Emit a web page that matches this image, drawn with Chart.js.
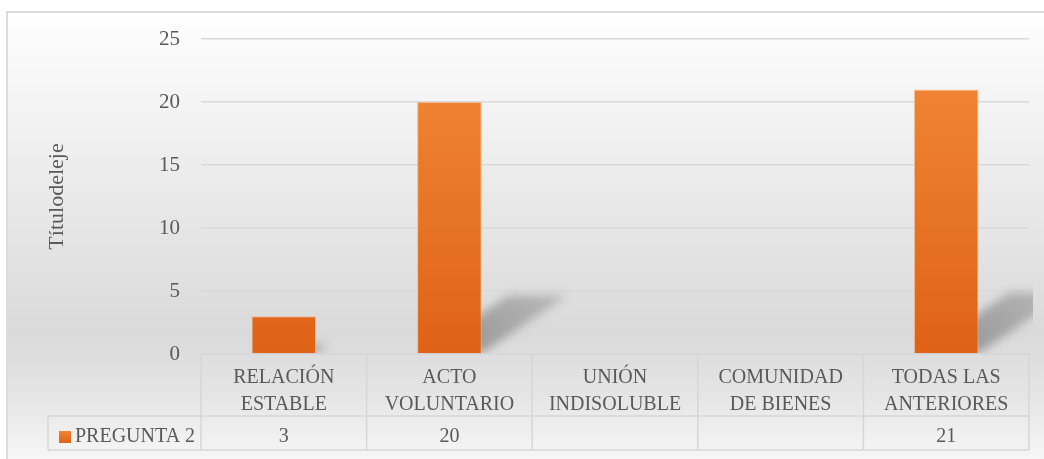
<!DOCTYPE html>
<html>
<head>
<meta charset="utf-8">
<script src="https://cdn.jsdelivr.net/npm/chart.js@4"></script>
<style>
  body { margin: 0; background: #ffffff; }
  canvas { display: block; }
</style>
</head>
<body>
<canvas id="grafico" width="1044" height="459"></canvas>
<script>
const categorias = [
    ["RELACIÓN", "ESTABLE"],
    ["ACTO", "VOLUNTARIO"],
    ["UNIÓN", "INDISOLUBLE"],
    ["COMUNIDAD", "DE BIENES"],
    ["TODAS LAS", "ANTERIORES"]
];
const valoresPregunta2 = [3, 20, null, null, 21];
const nombreSerie = "PREGUNTA 2";
const tituloEje = "Títulodeleje";
const ticksY = [0, 5, 10, 15, 20, 25];

const fuente = "'Liberation Serif', 'Times New Roman', serif";
const gris = "#595959";
const lineaTabla = "#d6d6d6";

function degradadoNaranja(ctx, y0, y1) {
    const g = ctx.createLinearGradient(0, y0, 0, y1);
    g.addColorStop(0, "#ef8433");
    g.addColorStop(1, "#df6216");
    return g;
}

// fondo con degradado y marco
const fondo = {
    id: "fondo",
    beforeDraw(chart) {
        const ctx = chart.ctx;
        ctx.save();
        const g = ctx.createLinearGradient(0, 12, 0, 459);
        g.addColorStop(0, "#ffffff");
        g.addColorStop(0.08, "#fafafa");
        g.addColorStop(0.72, "#dadada");
        g.addColorStop(0.85, "#e4e4e4");
        g.addColorStop(1, "#f6f6f6");
        ctx.fillStyle = g;
        ctx.fillRect(8, 13, 1044, 459);
        ctx.strokeStyle = "#dcdcdc";
        ctx.lineWidth = 2;
        ctx.strokeRect(7, 12, 1060, 480);
        ctx.restore();
    }
};

// sombras en perspectiva detrás de las barras
const sombras = {
    id: "sombras",
    beforeDatasetsDraw(chart) {
        const ctx = chart.ctx;
        const area = chart.chartArea;
        const meta = chart.getDatasetMeta(0);
        ctx.save();
        ctx.beginPath();
        ctx.rect(area.left, area.top, area.right - area.left + 4, area.bottom - area.top);
        ctx.clip();
        ctx.filter = "blur(5px)";
        meta.data.forEach((bar, i) => {
            if (valoresPregunta2[i] === null) return;
            const h = bar.base - bar.y;
            const izq = bar.x - bar.width / 2;
            const der = bar.x + bar.width / 2;
            const dx = h * 0.34, dy = h * 0.23;
            const g = ctx.createLinearGradient(der, bar.base, der + dx, bar.base - dy);
            g.addColorStop(0, "rgba(80,80,80,0.45)");
            g.addColorStop(1, "rgba(80,80,80,0.25)");
            ctx.fillStyle = g;
            ctx.beginPath();
            ctx.moveTo(izq + 6, bar.base);
            ctx.lineTo(der, bar.base);
            ctx.lineTo(der + dx, bar.base - dy);
            ctx.lineTo(izq + dx + 6, bar.base - dy);
            ctx.closePath();
            ctx.fill();
            // degradado propio de cada barra
            bar.options.backgroundColor = degradadoNaranja(ctx, bar.y, bar.base);
        });
        ctx.restore();
    }
};

// tabla de datos bajo el eje
const tablaDatos = {
    id: "tablaDatos",
    afterDraw(chart) {
        const ctx = chart.ctx;
        const x = chart.scales.x;
        const n = categorias.length;
        const ancho = (x.right - x.left) / n;
        const yTop = chart.chartArea.bottom;
        const yFila = 416, yFin = 450, xLeyenda = 48;
        ctx.save();
        ctx.strokeStyle = lineaTabla;
        ctx.lineWidth = 1.5;
        ctx.beginPath();
        ctx.moveTo(x.left, yTop); ctx.lineTo(x.right, yTop);
        ctx.moveTo(xLeyenda, yFila); ctx.lineTo(x.right, yFila);
        ctx.moveTo(xLeyenda, yFin); ctx.lineTo(x.right, yFin);
        ctx.moveTo(xLeyenda, yFila); ctx.lineTo(xLeyenda, yFin);
        for (let i = 0; i <= n; i++) {
            const xx = x.left + i * ancho;
            ctx.moveTo(xx, yTop); ctx.lineTo(xx, yFin);
        }
        ctx.stroke();

        const yTexto = 437;
        ctx.fillStyle = degradadoNaranja(ctx, 431, 443);
        ctx.fillRect(59, 431, 12, 12);
        ctx.font = "20px " + fuente;
        ctx.fillStyle = gris;
        ctx.textBaseline = "middle";
        ctx.textAlign = "left";
        ctx.fillText(nombreSerie, 75, yTexto);
        ctx.textAlign = "center";
        valoresPregunta2.forEach((v, i) => {
            if (v === null) return;
            ctx.fillText(String(v), x.getPixelForValue(i), yTexto);
        });
        ctx.restore();
    }
};

new Chart(document.getElementById("grafico"), {
    type: "bar",
    data: {
        labels: categorias,
        datasets: [{
            label: nombreSerie,
            data: valoresPregunta2,
            backgroundColor: "#e97324",
            borderColor: "rgba(246,178,130,0.8)",
            borderWidth: 1,
            borderSkipped: "bottom",
            categoryPercentage: 1,
            barPercentage: 0.39
        }]
    },
    options: {
        responsive: false,
        animation: false,
        layout: { padding: { top: 39, right: 15, left: 0, bottom: 0 } },
        plugins: {
            legend: { display: false },
            tooltip: { enabled: false }
        },
        scales: {
            x: {
                grid: { display: false },
                border: { display: false },
                ticks: {
                    color: gris,
                    font: { family: fuente, size: 20, lineHeight: 1.35 },
                    padding: 2,
                    maxRotation: 0,
                    autoSkip: false
                },
                afterFit(scale) { scale.height = 105; }
            },
            y: {
                min: 0,
                max: 25,
                afterBuildTicks(scale) { scale.ticks = ticksY.map(v => ({ value: v })); },
                grid: { color: "#d9d9d9", lineWidth: 1.5, drawTicks: false },
                border: { display: false },
                ticks: {
                    color: gris,
                    font: { family: fuente, size: 21 },
                    padding: 21
                },
                title: {
                    display: true,
                    text: tituloEje,
                    color: gris,
                    font: { family: fuente, size: 22 },
                    padding: { top: 44, bottom: 0 }
                },
                afterFit(scale) { scale.width = 201; }
            }
        }
    },
    plugins: [fondo, sombras, tablaDatos]
});
</script>
</body>
</html>
